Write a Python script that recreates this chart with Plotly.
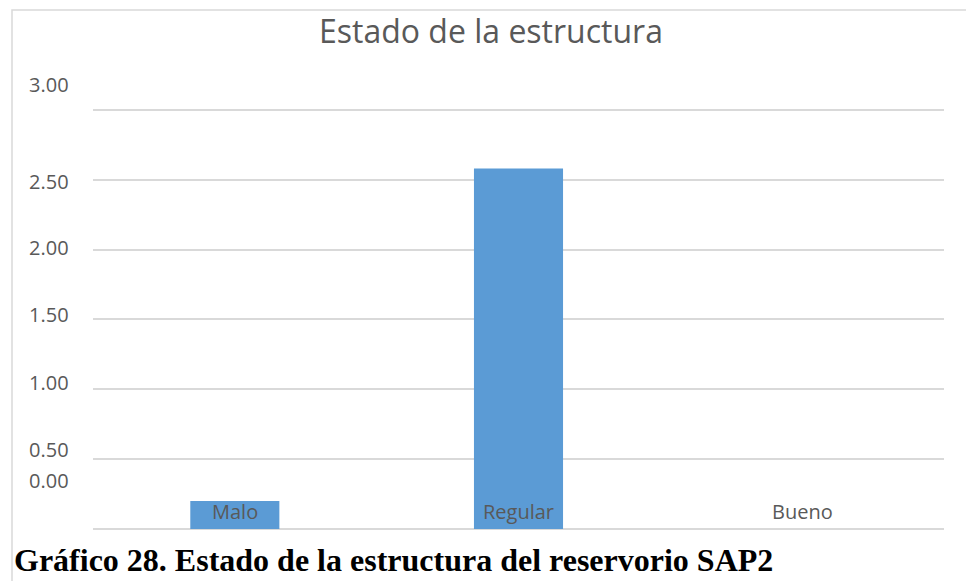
import plotly.graph_objects as go

# Chart data
categories = ["Malo", "Regular", "Bueno"]
values = [0.20, 2.58, 0.0]
tick_values = [3.0, 2.5, 2.0, 1.5, 1.0, 0.5, 0.0]
tick_labels = ["3.00", "2.50", "2.00", "1.50", "1.00", "0.50", "0.00"]

title_text = "Estado de la estructura"
caption_text = "Gráfico 28. Estado de la estructura del reservorio SAP2"

# Page geometry (pixels)
W, H = 966, 581
L, R, T, B = 93, 22, 107, 52
PW, PH = W - L - R, H - T - B
Y_TOP = 3.02

# Vertical nudges (px) for the value labels on the left
label_shift = [25, -2, 2, 5, 7, 10, 49]

BAR = "#5B9BD5"
GRID = "#D9D9D9"
TXT = "#595959"


def xp(px):
    return (px - L) / PW


def yp(py):
    return (H - B - py) / PH


fig = go.Figure(
    go.Bar(x=categories, y=values, marker=dict(color=BAR, line=dict(width=0)),
           hoverinfo="skip")
)

annotations = []
# value labels
for v, t, s in zip(tick_values, tick_labels, label_shift):
    annotations.append(dict(
        x=xp(71), xref="paper", y=v, yref="y", yshift=s,
        text=t, showarrow=False, xanchor="right", yanchor="middle",
        font=dict(family="Open Sans", size=20, color=TXT),
    ))
# category labels sitting just above the baseline
for c in categories:
    annotations.append(dict(
        x=c, xref="x", y=0, yref="y", yshift=18,
        text=c, showarrow=False, xanchor="center", yanchor="middle",
        font=dict(family="Open Sans", size=20, color=TXT),
    ))
# chart title
annotations.append(dict(
    x=xp(491), xref="paper", y=yp(31), yref="paper",
    text=title_text, showarrow=False, xanchor="center", yanchor="middle",
    font=dict(family="Open Sans", size=32, color=TXT),
))
# figure caption
annotations.append(dict(
    x=xp(12), xref="paper", y=yp(560), yref="paper",
    text="<b>" + caption_text + "</b>", showarrow=False,
    xanchor="left", yanchor="middle",
    font=dict(family="Liberation Serif", size=32, color="#000000"),
))

fig.update_layout(
    width=W, height=H,
    margin=dict(l=L, r=R, t=T, b=B, pad=0),
    paper_bgcolor="white", plot_bgcolor="white",
    bargap=0.686,
    showlegend=False,
    annotations=annotations,
    shapes=[dict(
        type="rect", xref="paper", yref="paper",
        x0=xp(12), x1=xp(980), y0=yp(600), y1=yp(10),
        line=dict(color=GRID, width=1.5), layer="below",
    )],
    xaxis=dict(showticklabels=False, showgrid=False, zeroline=False,
               showline=False, ticks="", fixedrange=True),
    yaxis=dict(range=[0, Y_TOP], dtick=0.5, tick0=0, showticklabels=False,
               showgrid=True, gridcolor=GRID, gridwidth=1.5,
               zeroline=True, zerolinecolor=GRID, zerolinewidth=1.5,
               showline=False, ticks="", fixedrange=True),
)

fig.write_html("out.html")
